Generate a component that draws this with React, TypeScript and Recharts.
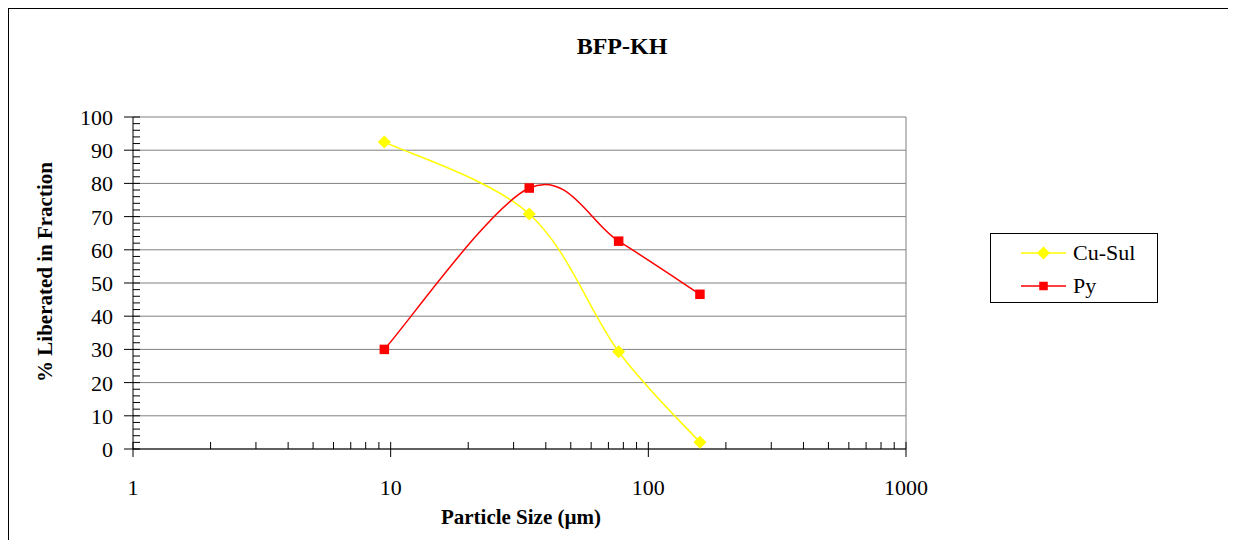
import React from "react";
import { CartesianGrid, Legend, Line, LineChart, ReferenceLine, XAxis, YAxis } from "recharts";

// Particle size (µm) per fraction and liberation (%) per mineral
const sizes = [9.45, 34.5, 76.7, 158.6];
const cuSul = [92.5, 70.8, 29.3, 2.0];
const py = [30.0, 78.6, 62.6, 46.6];

const xMajorTicks = [1, 10, 100, 1000];
const xMinorTicks = [2, 3, 4, 5, 6, 7, 8, 9, 20, 30, 40, 50, 60, 70, 80, 90, 200, 300, 400, 500, 600, 700, 800, 900];
const yMajorTicks = [0, 10, 20, 30, 40, 50, 60, 70, 80, 90, 100];
const yMinorTicks = [2, 4, 6, 8, 12, 14, 16, 18, 22, 24, 26, 28, 32, 34, 36, 38, 42, 44, 46, 48, 52, 54, 56, 58, 62, 64, 66, 68, 72, 74, 76, 78, 82, 84, 86, 88, 92, 94, 96, 98];

const data = sizes.map((size, i) => ({ size, "Cu-Sul": cuSul[i], Py: py[i] }));

const FONT = '"Liberation Serif", "Times New Roman", serif';
const YELLOW = "#FFFF00";
const RED = "#FF0000";

// Excel-style smoothed line: Catmull-Rom segments as cubic beziers.
const excelSmooth = (context: any) => {
  let pts: [number, number][] = [];
  return {
    areaStart() {},
    areaEnd() {},
    lineStart() {
      pts = [];
    },
    point(x: number, y: number) {
      pts.push([+x, +y]);
    },
    lineEnd() {
      if (pts.length === 0) return;
      context.moveTo(pts[0][0], pts[0][1]);
      for (let i = 0; i < pts.length - 1; i++) {
        const p0 = pts[Math.max(0, i - 1)];
        const p1 = pts[i];
        const p2 = pts[i + 1];
        const p3 = pts[Math.min(pts.length - 1, i + 2)];
        context.bezierCurveTo(
          p1[0] + (p2[0] - p0[0]) / 6,
          p1[1] + (p2[1] - p0[1]) / 6,
          p2[0] - (p3[0] - p1[0]) / 6,
          p2[1] - (p3[1] - p1[1]) / 6,
          p2[0],
          p2[1]
        );
      }
    },
  };
};

const diamond = (cx: number, cy: number, r: number) =>
  `M${cx},${cy - r}L${cx + r},${cy}L${cx},${cy + r}L${cx - r},${cy}Z`;

const DiamondDot = (p: any) => (
  <path key={`d-${p.index}`} d={diamond(p.cx, p.cy, 6.5)} fill={YELLOW} stroke="none" />
);

const SquareDot = (p: any) => (
  <rect key={`s-${p.index}`} x={p.cx - 4.75} y={p.cy - 4.75} width={9.5} height={9.5} fill={RED} stroke="none" />
);

const YTick = (p: any) => {
  const v = p.payload.value;
  const major = v % 10 === 0;
  return (
    <g>
      <line x1={major ? p.x - 9 : p.x} x2={p.x + 7} y1={p.y} y2={p.y} stroke="#000" strokeWidth={1} />
      {major && (
        <text x={p.x - 20} y={p.y + 8} textAnchor="end" fontFamily={FONT} fontSize={22} fill="#000">
          {v}
        </text>
      )}
    </g>
  );
};

const XTick = (p: any) => {
  const v = p.payload.value;
  const major = xMajorTicks.includes(v);
  return (
    <g>
      <line x1={p.x} x2={p.x} y1={p.y - 7} y2={major ? p.y + 8 : p.y} stroke="#000" strokeWidth={1} />
      {major && (
        <text x={p.x} y={p.y + 46} textAnchor="middle" fontFamily={FONT} fontSize={22} fill="#000">
          {v}
        </text>
      )}
    </g>
  );
};

const LegendBox = (props: any) => {
  const items = props.payload || [];
  return (
    <div
      style={{
        width: 168,
        height: 70,
        border: "1px solid #000",
        boxSizing: "border-box",
        background: "#fff",
        position: "relative",
        fontFamily: FONT,
        fontSize: 22,
      }}
    >
      {items.map((item: any, i: number) => (
        <div key={item.value} style={{ position: "absolute", left: 30, top: 19 + i * 33 - 12, height: 24, display: "flex", alignItems: "center" }}>
          <svg width={46} height={24}>
            <line x1={0} x2={45} y1={12} y2={12} stroke={item.color} strokeWidth={1.5} />
            {item.value === "Cu-Sul" ? (
              <path d={diamond(22.5, 12, 6.5)} fill={item.color} />
            ) : (
              <rect x={18.25} y={7.75} width={8.5} height={8.5} fill={item.color} />
            )}
          </svg>
          <span style={{ marginLeft: 6, lineHeight: "24px" }}>{item.value}</span>
        </div>
      ))}
    </div>
  );
};

export default function App() {
  return (
    <div style={{ position: "relative", width: 1220, height: 540, marginBottom: -8, background: "#fff" }}>
      {/* outer chart-area frame: only the top and left edges fall inside the window */}
      <div style={{ position: "absolute", left: 0, top: 0, width: 1220, height: 1, background: "#000" }} />
      <div style={{ position: "absolute", left: 0, top: 0, width: 1, height: 540, background: "#000", zIndex: 3 }} />
      <div
        style={{
          position: "absolute",
          left: 0,
          top: 25,
          width: 1228,
          textAlign: "center",
          fontFamily: FONT,
          fontWeight: "bold",
          fontSize: 24,
        }}
      >
        BFP-KH
      </div>
      <div
        style={{
          position: "absolute",
          left: 37 - 150,
          top: 264 - 14,
          width: 300,
          height: 28,
          lineHeight: "28px",
          textAlign: "center",
          transform: "rotate(-90deg)",
          fontFamily: FONT,
          fontWeight: "bold",
          fontSize: 21,
          zIndex: 2,
        }}
      >
        % Liberated in Fraction
      </div>
      <div
        style={{
          position: "absolute",
          left: 513 - 150,
          top: 497,
          width: 300,
          textAlign: "center",
          fontFamily: FONT,
          fontWeight: "bold",
          fontSize: 21,
          zIndex: 2,
        }}
      >
        Particle Size (µm)
      </div>
      <div style={{ position: "absolute", left: 0, top: 1 }}>
        <LineChart width={1220} height={530} data={data} margin={{ top: 108, right: 322, bottom: 40, left: 65 }}>
          <CartesianGrid horizontal vertical={false} horizontalValues={yMajorTicks} stroke="#808080" strokeWidth={1} />
          <XAxis
            dataKey="size"
            type="number"
            scale="log"
            domain={[1, 1000]}
            ticks={[...xMajorTicks, ...xMinorTicks].sort((a, b) => a - b)}
            interval={0}
            tickSize={0}
            tickMargin={0}
            tickLine={false}
            tick={<XTick />}
            axisLine={{ stroke: "#000", strokeWidth: 1 }}
            height={50}
            allowDataOverflow
          />
          <YAxis
            type="number"
            domain={[0, 100]}
            ticks={[...yMajorTicks, ...yMinorTicks].sort((a, b) => a - b)}
            interval={0}
            tickSize={0}
            tickMargin={0}
            tickLine={false}
            tick={<YTick />}
            axisLine={{ stroke: "#000", strokeWidth: 1 }}
            width={60}
          />
          <ReferenceLine x={1000} stroke="#808080" strokeWidth={1} />
          <Legend
            layout="vertical"
            align="center"
            verticalAlign="middle"
            content={<LegendBox />}
            wrapperStyle={{ left: 982, top: 224, width: 170, height: 72 }}
          />
          <Line
            dataKey="Cu-Sul"
            type={excelSmooth as any}
            stroke={YELLOW}
            strokeWidth={1.5}
            dot={DiamondDot}
            activeDot={false}
            isAnimationActive={false}
          />
          <Line
            dataKey="Py"
            type={excelSmooth as any}
            stroke={RED}
            strokeWidth={1.5}
            dot={SquareDot}
            activeDot={false}
            isAnimationActive={false}
          />
        </LineChart>
      </div>
    </div>
  );
}
